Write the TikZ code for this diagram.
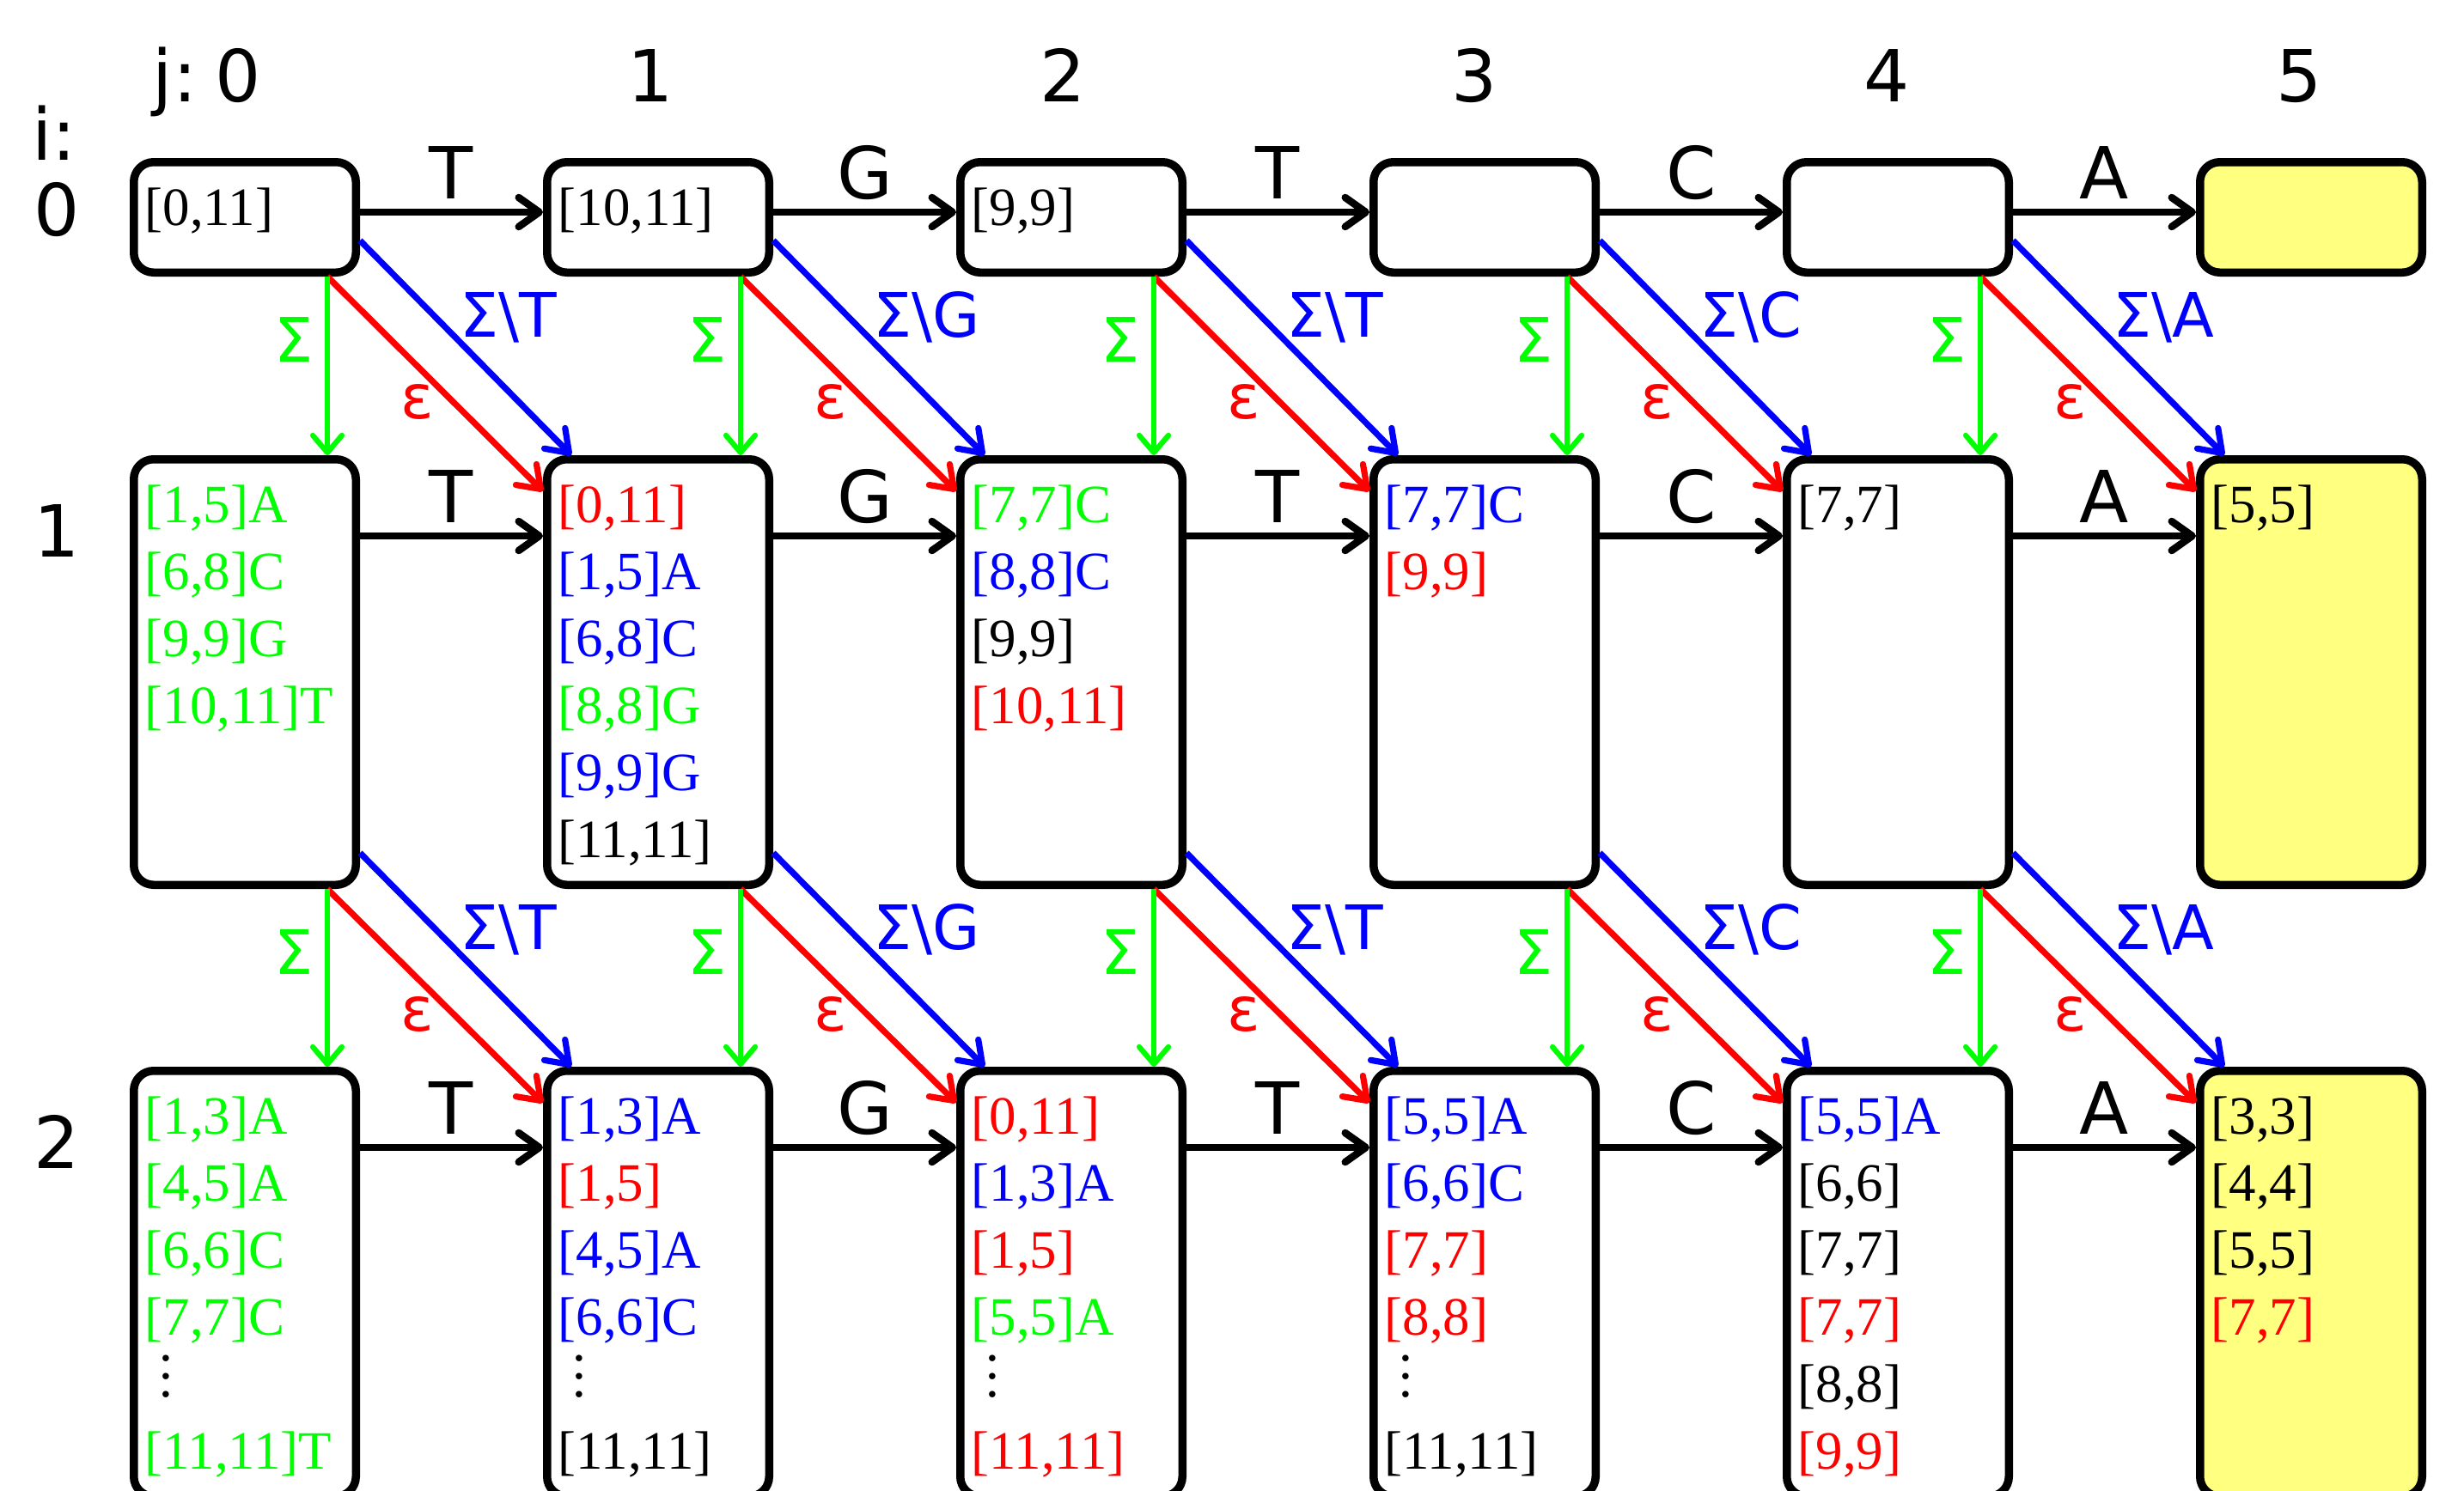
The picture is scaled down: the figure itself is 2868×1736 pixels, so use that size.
\documentclass[tikz,border=0pt]{standalone}
\usepackage{fontspec}
\setmainfont{Liberation Serif}
\newfontfamily\dvs{DejaVu Sans}
\usetikzlibrary{calc,arrows.meta}
\definecolor{cg}{RGB}{0,255,0}
\definecolor{cb}{RGB}{0,0,255}
\definecolor{cr}{RGB}{255,0,0}
\definecolor{cy}{RGB}{255,255,128}
\newcommand\ig[1]{\textcolor{cg}{#1}}
\newcommand\ib[1]{\textcolor{cb}{#1}}
\newcommand\ir[1]{\textcolor{cr}{#1}}
\newcommand\ik[1]{\textcolor{black}{#1}}
\newcommand\vdd{\hspace*{4.8pt}\smash{\raisebox{1.6pt}{\vbox{\baselineskip=6pt\lineskiplimit=-20pt\hbox{.}\hbox{.}\hbox{.}}}}}
\newcommand\lst[1]{\begin{tabular}[t]{@{}l@{}}#1\end{tabular}}
\begin{document}
\begin{tikzpicture}[x=0.1mm,y=-0.1mm,
  box/.style={draw, line width=0.95mm, rounded corners=2.3mm, minimum width=25.85mm, inner sep=0, fill=white},
  boxs/.style={box, minimum height=12.85mm},
  boxt/.style={box, minimum height=49.55mm},
  tip/.style={-{Straight Barb[length=2.4mm,width=3.4mm,round]}},
  harr/.style={tip, line width=0.85mm, black},
  barr/.style={tip, line width=0.72mm, cb},
  rarr/.style={tip, line width=0.72mm, cr},
  garr/.style={-{Straight Barb[length=2.0mm,width=3.4mm,round]}, line width=0.62mm, cg},
  hlab/.style={anchor=base, yshift=1.6mm, inner sep=0, font=\dvs\fontsize{23.8}{28}\selectfont},
  big/.style={inner sep=0, font=\dvs\fontsize{23.8}{28}\selectfont},
  dlab/.style={inner sep=0, font=\dvs\fontsize{20.3}{24}\selectfont},
  txt/.style={anchor=base west, inner sep=0, font=\fontsize{17.9}{22.2}\selectfont}
]
\useasboundingbox (0,0) rectangle (2868,1736);
\clip (0,0) rectangle (2868,1736);

% headers
\node[big, anchor=base east] (hjj) at (230,118) {j:};
\node[big, anchor=base] (hj0) at (277,118) {0};
\foreach \j in {1,...,5} {
  \node[big, anchor=base] (hj\j) at (277+479.8*\j,118) {\j};
}
\node[big, anchor=base west] (hi) at (37,186) {i:};
\node[big, anchor=base] (hi0) at (66,274) {0};
\node[big, anchor=base] (hi1) at (66,648) {1};
\node[big, anchor=base] (hi2) at (66,1360) {2};

% boxes
\foreach \j in {0,...,4} {
  \node[boxs] (b0\j) at (285+481*\j,253) {};
  \node[boxt] (b1\j) at (285+481*\j,782.5) {};
  \node[boxt] (b2\j) at (285+481*\j,1494.5) {};
}
\node[boxs, fill=cy] (b05) at (2690,253) {};
\node[boxt, fill=cy] (b15) at (2690,782.5) {};
\node[boxt, fill=cy] (b25) at (2690,1494.5) {};

% horizontal arrows
\foreach \r/\dy in {0/63,1/94,2/94} {
  \foreach \j/\k/\a in {0/1/T,1/2/G,2/3/T,3/4/C,4/5/A} {
    \draw[harr] ($(b\r\j.north east)+(0,\dy)$) -- node[hlab] (h\r\j) {\a} ($(b\r\k.north west)+(0,\dy)$);
  }
}

% diagonal and vertical arrows
\foreach \r/\s in {0/1,1/2} {
  \foreach \j/\k/\a in {0/1/T,1/2/G,2/3/T,3/4/C,4/5/A} {
    \draw[barr] ($(b\r\j.south east)+(0,-42)$) -- ($(b\s\k.north west)+(33,0)$);
    \draw[rarr] ($(b\r\j.south east)+(-38,0)$) -- ($(b\s\k.north west)+(0,42)$);
    \draw[garr] ($(b\r\j.south east)+(-38,0)$) -- ($(b\s\j.north east)+(-38,0)$);
    \node[dlab, text=cg] (s\r\j) at ($(b\r\j.south east)+(-77,73)$) {Σ};
    \node[dlab, text=cr] (e\r\j) at ($(b\r\j.south east)+(67,146)$) {ε};
    \node[dlab, text=cb, anchor=base west] (n\r\j) at ($(b\r\j.south east)+(116,70)$) {Σ\textbackslash\a};
  }
}

% contents
\node[txt] (t00) at ($(b00.north west)+(17,78)$) {\lst{\ik{[0,11]}}};
\node[txt] (t01) at ($(b01.north west)+(17,78)$) {\lst{\ik{[10,11]}}};
\node[txt] (t02) at ($(b02.north west)+(17,78)$) {\lst{\ik{[9,9]}}};

\node[txt] (t10) at ($(b10.north west)+(17,78)$) {\lst{\ig{[1,5]A}\\ \ig{[6,8]C}\\ \ig{[9,9]G}\\ \ig{[10,11]T}}};
\node[txt] (t11) at ($(b11.north west)+(17,78)$) {\lst{\ir{[0,11]}\\ \ib{[1,5]A}\\ \ib{[6,8]C}\\ \ig{[8,8]G}\\ \ib{[9,9]G}\\ \ik{[11,11]}}};
\node[txt] (t12) at ($(b12.north west)+(17,78)$) {\lst{\ig{[7,7]C}\\ \ib{[8,8]C}\\ \ik{[9,9]}\\ \ir{[10,11]}}};
\node[txt] (t13) at ($(b13.north west)+(17,78)$) {\lst{\ib{[7,7]C}\\ \ir{[9,9]}}};
\node[txt] (t14) at ($(b14.north west)+(17,78)$) {\lst{\ik{[7,7]}}};
\node[txt] (t15) at ($(b15.north west)+(17,78)$) {\lst{\ik{[5,5]}}};

\node[txt] (t20) at ($(b20.north west)+(17,78)$) {\lst{\ig{[1,3]A}\\ \ig{[4,5]A}\\ \ig{[6,6]C}\\ \ig{[7,7]C}\\ \vdd\\ \ig{[11,11]T}}};
\node[txt] (t21) at ($(b21.north west)+(17,78)$) {\lst{\ib{[1,3]A}\\ \ir{[1,5]}\\ \ib{[4,5]A}\\ \ib{[6,6]C}\\ \vdd\\ \ik{[11,11]}}};
\node[txt] (t22) at ($(b22.north west)+(17,78)$) {\lst{\ir{[0,11]}\\ \ib{[1,3]A}\\ \ir{[1,5]}\\ \ig{[5,5]A}\\ \vdd\\ \ir{[11,11]}}};
\node[txt] (t23) at ($(b23.north west)+(17,78)$) {\lst{\ib{[5,5]A}\\ \ib{[6,6]C}\\ \ir{[7,7]}\\ \ir{[8,8]}\\ \vdd\\ \ik{[11,11]}}};
\node[txt] (t24) at ($(b24.north west)+(17,78)$) {\lst{\ib{[5,5]A}\\ \ik{[6,6]}\\ \ik{[7,7]}\\ \ir{[7,7]}\\ \ik{[8,8]}\\ \ir{[9,9]}}};
\node[txt] (t25) at ($(b25.north west)+(17,78)$) {\lst{\ik{[3,3]}\\ \ik{[4,4]}\\ \ik{[5,5]}\\ \ir{[7,7]}}};
\end{tikzpicture}
\end{document}
